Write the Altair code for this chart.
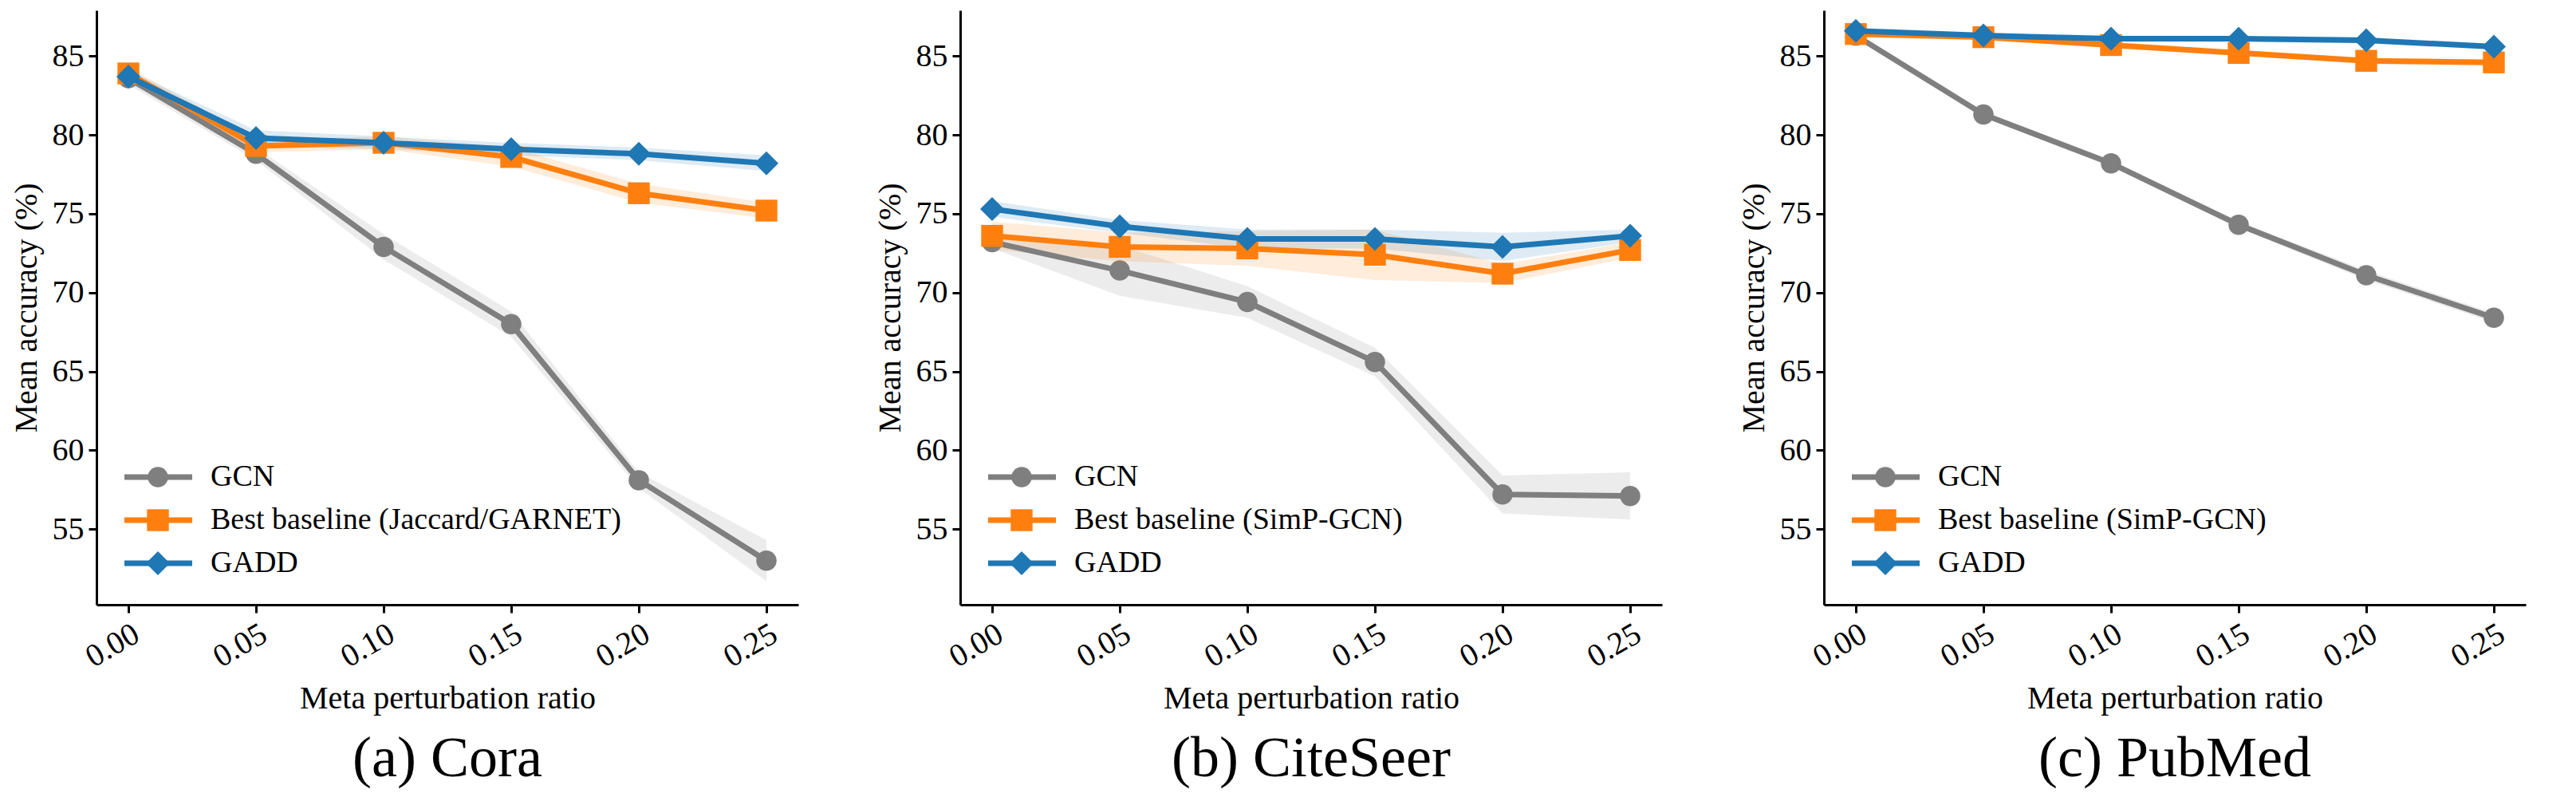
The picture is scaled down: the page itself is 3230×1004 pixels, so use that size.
import pandas as pd
import altair as alt

ratios = [0.00, 0.05, 0.10, 0.15, 0.20, 0.25]
series = ["GCN", "Best baseline", "GADD"]

datasets = ["Cora", "CiteSeer", "PubMed"]
letters = ["a", "b", "c"]
baseline_names = ["Best baseline (Jaccard/GARNET)", "Best baseline (SimP-GCN)", "Best baseline (SimP-GCN)"]

cora_gcn = [83.6, 78.8, 72.9, 68.0, 58.1, 53.0]
cora_base = [83.9, 79.3, 79.5, 78.6, 76.3, 75.2]
cora_gadd = [83.7, 79.8, 79.5, 79.1, 78.8, 78.2]
cora_gcn_sd = [0.4, 0.4, 0.8, 0.8, 0.5, 1.3]
cora_base_sd = [0.4, 0.4, 0.4, 0.6, 0.6, 0.5]
cora_gadd_sd = [0.4, 0.5, 0.4, 0.4, 0.4, 0.5]

cite_gcn = [73.2, 71.4, 69.4, 65.6, 57.2, 57.1]
cite_base = [73.6, 72.9, 72.8, 72.4, 71.2, 72.7]
cite_gadd = [75.3, 74.2, 73.4, 73.4, 72.9, 73.6]
cite_gcn_sd = [0.4, 1.6, 1.0, 0.9, 1.2, 1.5]
cite_base_sd = [0.9, 0.9, 1.1, 1.6, 0.6, 0.5]
cite_gadd_sd = [0.5, 0.4, 0.6, 0.6, 0.9, 0.4]

pub_gcn = [86.3, 81.3, 78.2, 74.3, 71.1, 68.4]
pub_base = [86.4, 86.2, 85.7, 85.2, 84.7, 84.6]
pub_gadd = [86.6, 86.3, 86.1, 86.1, 86.0, 85.6]
pub_gcn_sd = [0.2, 0.2, 0.2, 0.2, 0.3, 0.3]
pub_base_sd = [0.2, 0.2, 0.2, 0.2, 0.2, 0.2]
pub_gadd_sd = [0.2, 0.2, 0.2, 0.2, 0.2, 0.2]

means = [[cora_gcn, cora_base, cora_gadd], [cite_gcn, cite_base, cite_gadd], [pub_gcn, pub_base, pub_gadd]]
sds = [[cora_gcn_sd, cora_base_sd, cora_gadd_sd], [cite_gcn_sd, cite_base_sd, cite_gadd_sd],
       [pub_gcn_sd, pub_base_sd, pub_gadd_sd]]

colors = ["#7f7f7f", "#ff7f0e", "#1f77b4"]
shapes = ["circle", "square", "diamond"]
sizes = [650, 750, 900]
FONT = "Liberation Serif"
W, H = 880, 745
legend_y = [585, 639, 693]

axis_style = dict(grid=False, labelFont=FONT, titleFont=FONT, labelFontSize=40, titleFontSize=40,
                  titleFontWeight="normal", labelColor="black", titleColor="black", domainColor="black",
                  tickColor="black", domainWidth=3, tickWidth=3, tickSize=10, labelPadding=6, titlePadding=12)


def panel(i):
    rows = []
    for s, name in enumerate(series):
        for r, m, sd in zip(ratios, means[i][s], sds[i][s]):
            rows.append({"ratio": r, "acc": m, "lo": m - sd, "hi": m + sd, "series": name})
    df = pd.DataFrame(rows)
    x = alt.X("ratio:Q", title="Meta perturbation ratio",
              scale=alt.Scale(domain=[-0.0125, 0.2625], nice=False, zero=False),
              axis=alt.Axis(values=ratios, format=".2f", labelAngle=-30, labelAlign="right",
                            labelBaseline="top", **axis_style))
    yscale = alt.Scale(domain=[50.2, 87.9], nice=False, zero=False)
    yaxis = alt.Axis(values=[55, 60, 65, 70, 75, 80, 85], **axis_style)
    layers = []
    for s, name in enumerate(series):
        d = df[df.series == name]
        layers.append(alt.Chart(d).mark_area(color=colors[s], opacity=0.15).encode(
            x=x, y=alt.Y("lo:Q", scale=yscale, axis=yaxis, title="Mean accuracy (%)"), y2="hi:Q"))
    for s, name in enumerate(series):
        d = df[df.series == name]
        base = alt.Chart(d)
        layers.append(base.mark_line(color=colors[s], strokeWidth=7).encode(
            x=x, y=alt.Y("acc:Q", scale=yscale, axis=yaxis, title="Mean accuracy (%)")))
        layers.append(base.mark_point(color=colors[s], filled=True, opacity=1, shape=shapes[s],
                                      size=sizes[s]).encode(
            x=x, y=alt.Y("acc:Q", scale=yscale, axis=yaxis, title="Mean accuracy (%)")))
    # legend inside bottom-left
    labels = ["GCN", baseline_names[i], "GADD"]
    for s in range(3):
        leg = pd.DataFrame({"label": [labels[s]]})
        lb = alt.Chart(leg)
        layers.append(lb.mark_rule(strokeWidth=7, color=colors[s]).encode(
            x=alt.value(35), x2=alt.value(120), y=alt.value(legend_y[s])))
        layers.append(lb.mark_point(filled=True, opacity=1, shape=shapes[s], size=sizes[s],
                                    color=colors[s]).encode(x=alt.value(77), y=alt.value(legend_y[s])))
        layers.append(lb.mark_text(align="left", baseline="middle", font=FONT, fontSize=38,
                                   color="black").encode(x=alt.value(143), y=alt.value(legend_y[s]),
                                                         text="label:N"))
    return alt.layer(*layers).properties(
        width=W, height=H,
        title=alt.TitleParams(f"({letters[i]}) {datasets[i]}", orient="bottom", font=FONT,
                              fontSize=72, fontWeight="normal", offset=20, anchor="middle", color="black"))


chart = alt.hconcat(*[panel(i) for i in range(3)], spacing=95).configure_view(stroke=None)
chart.save("out.html", embed_options={"renderer": "svg", "actions": False})
